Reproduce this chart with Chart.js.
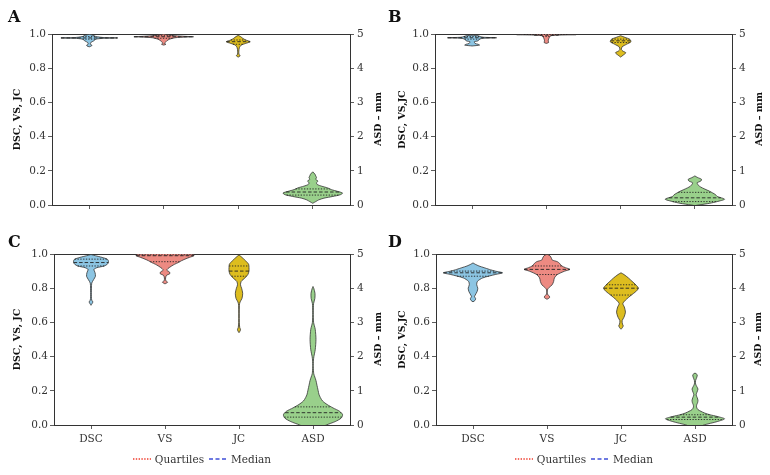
<!DOCTYPE html>
<html>
<head>
<meta charset="utf-8">
<script src="https://cdn.jsdelivr.net/npm/chart.js@4.4.1/dist/chart.umd.min.js"></script>
<style>
body { margin:0; background:#fff; }
#wrap { position:relative; width:770px; height:475px; font-family:"DejaVu Serif", serif; }
canvas { position:absolute; }
.letter { position:absolute; font:bold 16px "DejaVu Serif", serif; line-height:16px; color:#111; }
.rtitle { position:absolute; font:bold 9.5px "DejaVu Serif", serif; color:#111; white-space:nowrap;
          transform:translate(-50%, -50%) rotate(-90deg); }
.legend { position:absolute; top:452px; height:14px; font-size:10.5px; color:#333; display:flex; justify-content:center; align-items:center; }
.legend svg { margin-right:4px; }
.gap { display:inline-block; width:5px; }
</style>
</head>
<body>
<div id="wrap">
  <canvas id="cA" width="385" height="215" style="left:0;top:0;width:385px;height:215px"></canvas>
  <canvas id="cB" width="385" height="215" style="left:385px;top:0;width:385px;height:215px"></canvas>
  <canvas id="cC" width="385" height="260" style="left:0;top:215px;width:385px;height:260px"></canvas>
  <canvas id="cD" width="385" height="260" style="left:385px;top:215px;width:385px;height:260px"></canvas>
  <div class="letter" style="left:8px;top:9px">A</div>
  <div class="letter" style="left:388px;top:9px">B</div>
  <div class="letter" style="left:8px;top:234px">C</div>
  <div class="letter" style="left:388px;top:234px">D</div>
  <div class="rtitle" style="left:377px;top:119px">ASD – mm</div>
  <div class="rtitle" style="left:758px;top:119px">ASD – mm</div>
  <div class="rtitle" style="left:377px;top:339px">ASD – mm</div>
  <div class="rtitle" style="left:757px;top:339px">ASD – mm</div>
  <div class="legend" style="left:54px;width:296px">
    <svg width="18" height="4"><line x1="0" y1="2" x2="18" y2="2" stroke="#f03c2e" stroke-width="1.3" stroke-dasharray="1.4,1.4"/></svg>Quartiles<span class="gap"></span>
    <svg width="18" height="4"><line x1="0" y1="2" x2="18" y2="2" stroke="#3f4fd8" stroke-width="1.3" stroke-dasharray="4,2.5"/></svg>Median
  </div>
  <div class="legend" style="left:436px;width:296px">
    <svg width="18" height="4"><line x1="0" y1="2" x2="18" y2="2" stroke="#f03c2e" stroke-width="1.3" stroke-dasharray="1.4,1.4"/></svg>Quartiles<span class="gap"></span>
    <svg width="18" height="4"><line x1="0" y1="2" x2="18" y2="2" stroke="#3f4fd8" stroke-width="1.3" stroke-dasharray="4,2.5"/></svg>Median
  </div>
</div>
<script>
// categories and colours
const categories = ['DSC', 'VS', 'JC', 'ASD'];
const fills = ['#8cc5e3', '#ed8a82', '#ddbd1f', '#99d08b'];

// violin profiles: [value, half-width in category units]; ASD values are in mm
const dscA = [[0.925,0],[0.93,0.03],[0.935,0.035],[0.94,0.015],[0.95,0.02],[0.96,0.06],[0.97,0.09],[0.975,0.2],[0.977,0.38],[0.979,0.2],[0.985,0.09],[0.99,0.07],[0.995,0.03],[0.998,0]];
const vsA  = [[0.935,0],[0.94,0.03],[0.945,0.01],[0.95,0.02],[0.96,0.04],[0.97,0.08],[0.978,0.15],[0.982,0.3],[0.984,0.4],[0.986,0.3],[0.99,0.15],[0.995,0.06],[1.0,0]];
const jcA  = [[0.865,0],[0.87,0.02],[0.875,0.025],[0.88,0.01],[0.9,0.008],[0.92,0.015],[0.935,0.04],[0.945,0.1],[0.955,0.16],[0.965,0.1],[0.975,0.06],[0.985,0.03],[0.992,0]];
const asdA = [[0.05,0],[0.1,0.04],[0.15,0.08],[0.2,0.15],[0.25,0.27],[0.3,0.37],[0.35,0.4],[0.4,0.33],[0.45,0.25],[0.5,0.2],[0.55,0.12],[0.6,0.06],[0.65,0.05],[0.7,0.07],[0.75,0.04],[0.8,0.05],[0.85,0.04],[0.9,0.03],[0.97,0]];

const dscB = [[0.93,0],[0.935,0.1],[0.94,0.08],[0.945,0.04],[0.955,0.03],[0.96,0.08],[0.97,0.1],[0.975,0.15],[0.978,0.33],[0.981,0.15],[0.985,0.11],[0.99,0.08],[0.993,0]];
const vsB  = [[0.945,0],[0.95,0.03],[0.96,0.025],[0.97,0.03],[0.98,0.04],[0.99,0.06],[0.994,0.2],[0.996,0.4],[0.998,0.2],[1.0,0.1],[1.003,0]];
const jcB  = [[0.865,0],[0.875,0.03],[0.89,0.07],[0.9,0.03],[0.91,0.01],[0.925,0.02],[0.94,0.08],[0.955,0.14],[0.97,0.12],[0.98,0.06],[0.99,0]];
const asdB = [[-0.02,0],[0.0,0.05],[0.05,0.2],[0.1,0.3],[0.17,0.4],[0.25,0.3],[0.3,0.28],[0.4,0.2],[0.45,0.15],[0.5,0.1],[0.55,0.06],[0.6,0.04],[0.65,0.03],[0.7,0.08],[0.75,0.09],[0.8,0.04],[0.85,0]];

const dscC = [[0.70,0],[0.71,0.015],[0.72,0.025],[0.73,0.01],[0.75,0.005],[0.80,0.006],[0.83,0.01],[0.85,0.035],[0.87,0.06],[0.89,0.055],[0.91,0.04],[0.92,0.08],[0.93,0.18],[0.94,0.22],[0.95,0.235],[0.96,0.235],[0.97,0.22],[0.98,0.15],[0.99,0.06],[0.997,0]];
const vsC  = [[0.825,0],[0.835,0.035],[0.845,0.01],[0.86,0.008],[0.875,0.02],[0.885,0.065],[0.895,0.06],[0.905,0.025],[0.915,0.04],[0.93,0.09],[0.94,0.13],[0.95,0.18],[0.96,0.22],[0.97,0.27],[0.98,0.33],[0.99,0.39],[0.995,0.39],[1.0,0.38],[1.003,0]];
const jcC  = [[0.54,0],[0.55,0.015],[0.56,0.02],[0.57,0.01],[0.6,0.004],[0.7,0.005],[0.72,0.015],[0.74,0.04],[0.77,0.05],[0.80,0.035],[0.82,0.02],[0.84,0.03],[0.86,0.08],[0.88,0.12],[0.90,0.135],[0.92,0.135],[0.94,0.13],[0.96,0.09],[0.98,0.04],[0.995,0]];
const asdC = [[-0.2,0],[-0.1,0.08],[0.0,0.18],[0.1,0.3],[0.2,0.38],[0.3,0.4],[0.4,0.36],[0.5,0.27],[0.6,0.19],[0.7,0.13],[0.8,0.1],[0.9,0.08],[1.0,0.07],[1.1,0.06],[1.2,0.05],[1.3,0.04],[1.4,0.025],[1.5,0.01],[1.7,0.004],[1.9,0.006],[2.0,0.012],[2.2,0.03],[2.5,0.04],[2.8,0.03],[3.0,0.008],[3.3,0.004],[3.55,0.008],[3.7,0.025],[3.85,0.027],[4.0,0.01],[4.05,0]];

const dscD = [[0.72,0],[0.73,0.03],[0.74,0.035],[0.75,0.02],[0.76,0.03],[0.78,0.055],[0.80,0.065],[0.82,0.05],[0.84,0.06],[0.86,0.13],[0.88,0.3],[0.89,0.4],[0.90,0.3],[0.91,0.22],[0.92,0.15],[0.93,0.08],[0.94,0.03],[0.948,0]];
const vsD  = [[0.735,0],[0.745,0.035],[0.755,0.03],[0.765,0.005],[0.79,0.005],[0.805,0.03],[0.82,0.07],[0.84,0.09],[0.86,0.1],[0.88,0.14],[0.9,0.24],[0.91,0.31],[0.92,0.25],[0.93,0.2],[0.945,0.17],[0.955,0.14],[0.965,0.07],[0.975,0.06],[0.99,0.04],[0.998,0]];
const jcD  = [[0.56,0],[0.57,0.02],[0.58,0.03],[0.59,0.02],[0.61,0.015],[0.63,0.04],[0.66,0.06],[0.69,0.045],[0.71,0.025],[0.73,0.06],[0.76,0.14],[0.78,0.2],[0.80,0.235],[0.82,0.2],[0.84,0.15],[0.86,0.1],[0.88,0.04],[0.89,0]];
const asdD = [[-0.1,0],[-0.05,0.06],[0.0,0.12],[0.1,0.3],[0.18,0.4],[0.25,0.3],[0.3,0.2],[0.35,0.13],[0.4,0.08],[0.45,0.04],[0.5,0.025],[0.55,0.02],[0.6,0.025],[0.65,0.035],[0.72,0.04],[0.8,0.03],[0.88,0.015],[0.95,0.025],[1.05,0.04],[1.12,0.025],[1.2,0.008],[1.3,0.008],[1.4,0.025],[1.47,0.03],[1.52,0]];

// quartiles per category: [Q1, median, Q3]
const quartA = [[0.970,0.977,0.985],[0.975,0.984,0.990],[0.940,0.955,0.965],[0.29,0.38,0.47]];
const quartB = [[0.970,0.978,0.985],[0.985,0.993,0.997],[0.950,0.960,0.970],[0.10,0.21,0.37]];
const quartC = [[0.93,0.95,0.97],[0.955,0.99,0.995],[0.87,0.90,0.93],[0.23,0.36,0.53]];
const quartD = [[0.87,0.89,0.90],[0.88,0.91,0.93],[0.76,0.80,0.82],[0.16,0.23,0.30]];

const leftTitles = ['DSC, VS, JC', 'DSC, VS,JC', 'DSC, VS, JC', 'DSC, VS,JC'];
const leftTicks = [0, 0.2, 0.4, 0.6, 0.8, 1.0];
const rightTicks = [0, 1, 2, 3, 4, 5];

const panelData = [
  {id:'cA', violins:[dscA, vsA, jcA, asdA], quart:quartA, labels:false, lw:52, rw:35, th:34, bh:10},
  {id:'cB', violins:[dscB, vsB, jcB, asdB], quart:quartB, labels:false, lw:50, rw:38, th:34, bh:10},
  {id:'cC', violins:[dscC, vsC, jcC, asdC], quart:quartC, labels:true,  lw:54, rw:35, th:39, bh:50},
  {id:'cD', violins:[dscD, vsD, jcD, asdD], quart:quartD, labels:true,  lw:51, rw:38, th:39, bh:50}
];

const ink = '#333';
const tickFont = {family:'DejaVu Serif', size:10.5};

function widthAt(profile, v) {
  for (let k = 1; k < profile.length; k++) {
    const a = profile[k-1], b = profile[k];
    if (v >= a[0] && v <= b[0]) {
      const t = (v - a[0]) / (b[0] - a[0]);
      return a[1] + t * (b[1] - a[1]);
    }
  }
  return 0;
}

function buildDatasets(p) {
  let sets = [];
  p.violins.forEach((prof, i) => {
    const axis = i === 3 ? 'y2' : 'y';
    const right = prof.map(q => ({x: i + q[1], y: q[0]}));
    const left = prof.slice().reverse().map(q => ({x: i - q[1], y: q[0]}));
    sets.push({
      data: right.concat(left),
      yAxisID: axis,
      borderColor: ink,
      borderWidth: 0.8,
      backgroundColor: fills[i],
      fill: 'shape',
      pointRadius: 0,
      tension: 0.25,
      order: 2
    });
    p.quart[i].forEach((v, k) => {
      const w = widthAt(prof, v);
      sets.push({
        data: [{x: i - w, y: v}, {x: i + w, y: v}],
        yAxisID: axis,
        borderColor: '#222',
        borderWidth: 0.9,
        borderDash: k === 1 ? [3.5, 2] : [1.3, 1.5],
        fill: false,
        pointRadius: 0,
        order: 1
      });
    });
  });
  return sets;
}

panelData.forEach((p, n) => {
  new Chart(document.getElementById(p.id), {
    type: 'line',
    data: {datasets: buildDatasets(p)},
    options: {
      responsive: false,
      devicePixelRatio: 1,
      animation: false,
      events: [],
      layout: {padding: 0},
      plugins: {legend: {display: false}, tooltip: {enabled: false}},
      scales: {
        x: {
          type: 'linear', position: 'bottom', min: -0.5, max: 3.5,
          afterBuildTicks: a => { a.ticks = categories.map((c, i) => ({value: i})); },
          afterFit: a => { a.height = p.bh; },
          ticks: {color: ink, font: tickFont, padding: 4, maxRotation: 0,
                  callback: v => p.labels ? categories[v] : ''},
          grid: {drawOnChartArea: false, tickLength: 4, color: ink, tickWidth: 0.8},
          border: {color: ink, width: 1}
        },
        xt: {
          type: 'linear', position: 'top', min: -0.5, max: 3.5,
          afterFit: a => { a.height = p.th; },
          ticks: {display: false},
          grid: {drawOnChartArea: false, drawTicks: false},
          border: {color: ink, width: 1}
        },
        y: {
          type: 'linear', position: 'left', min: 0, max: 1,
          afterBuildTicks: a => { a.ticks = leftTicks.map(v => ({value: v})); },
          afterFit: a => { a.width = p.lw; },
          ticks: {color: ink, font: tickFont, padding: 2, callback: v => v.toFixed(1)},
          grid: {drawOnChartArea: false, tickLength: 4, color: ink, tickWidth: 0.8},
          border: {color: ink, width: 1},
          title: {display: true, text: leftTitles[n], color: '#111',
                  font: {family:'DejaVu Serif', size:9.5, weight:'bold'}, padding: {top: 12, bottom: 0}}
        },
        y2: {
          type: 'linear', position: 'right', min: 0, max: 5,
          afterBuildTicks: a => { a.ticks = rightTicks.map(v => ({value: v})); },
          afterFit: a => { a.width = p.rw; },
          ticks: {color: ink, font: tickFont, padding: 3},
          grid: {drawOnChartArea: false, tickLength: 4, color: ink, tickWidth: 0.8},
          border: {color: ink, width: 1}
        }
      }
    }
  });
});
</script>
</body>
</html>
